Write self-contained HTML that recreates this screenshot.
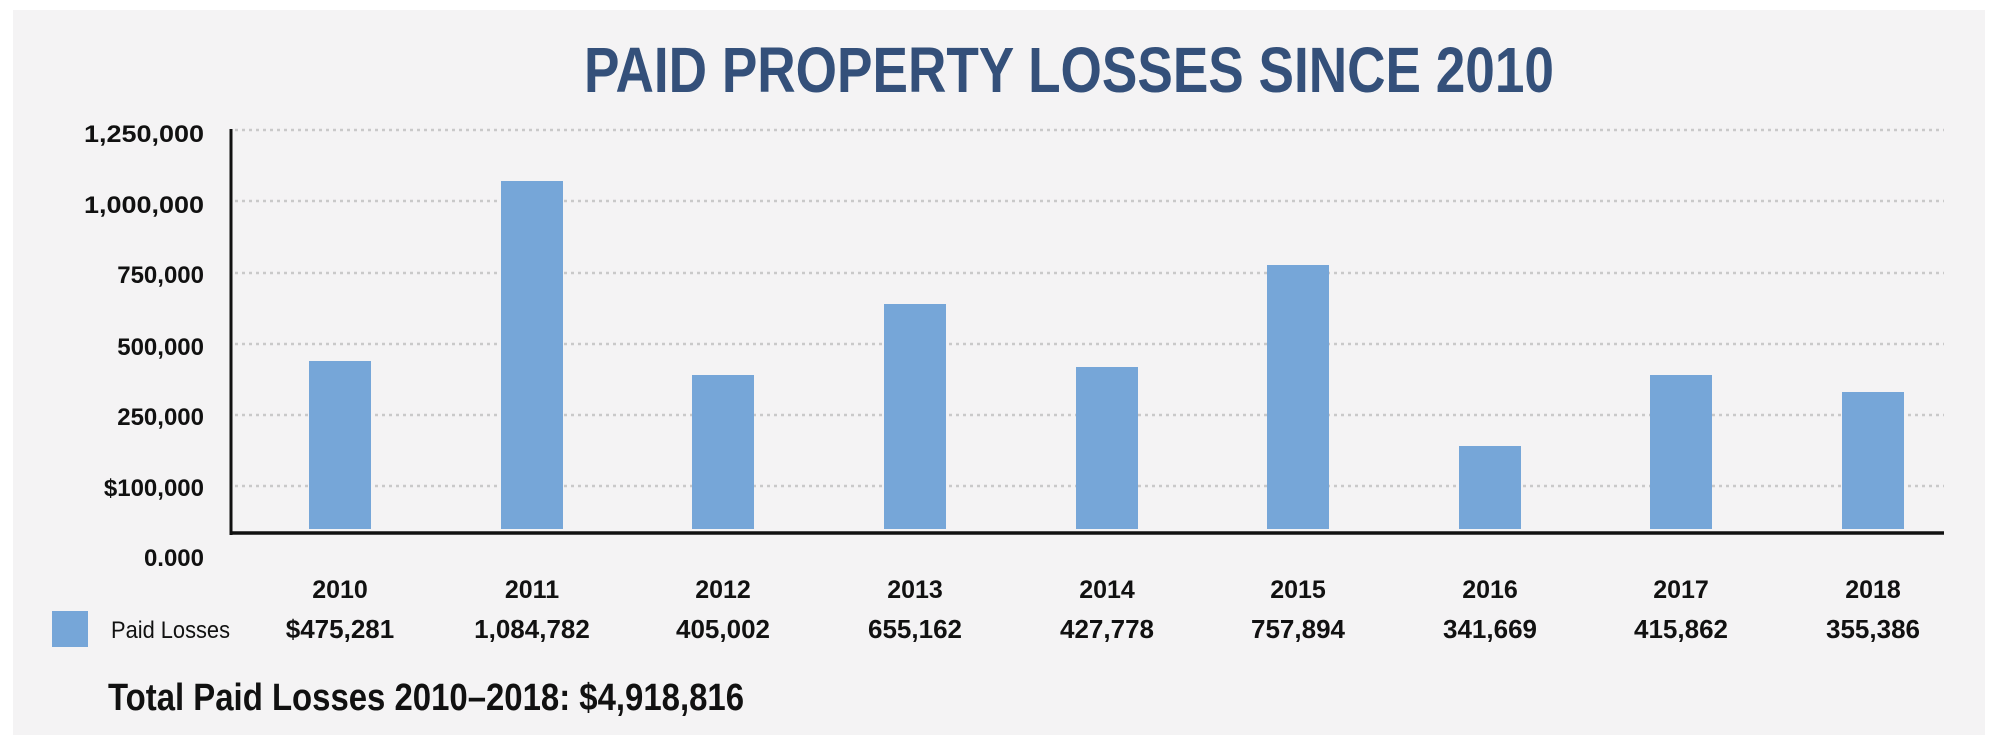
<!DOCTYPE html>
<html><head><meta charset="utf-8"><style>
html,body{margin:0;padding:0;background:#fff;}
svg{display:block;}
text{font-family:"Liberation Sans",sans-serif;}
</style></head><body>
<svg width="2000" height="745" viewBox="0 0 2000 745" xmlns="http://www.w3.org/2000/svg">
<rect x="13" y="10" width="1972" height="725" fill="#f4f3f4"/>
<text x="584" y="92" font-size="64" font-weight="bold" fill="#34507a" textLength="970" lengthAdjust="spacingAndGlyphs">PAID PROPERTY LOSSES SINCE 2010</text>
<g stroke="#c9c9c9" stroke-width="2.5" stroke-dasharray="3 4">
<line x1="235" y1="130" x2="1944" y2="130"/>
<line x1="235" y1="201" x2="1944" y2="201"/>
<line x1="235" y1="273" x2="1944" y2="273"/>
<line x1="235" y1="344" x2="1944" y2="344"/>
<line x1="235" y1="415" x2="1944" y2="415"/>
<line x1="235" y1="486" x2="1944" y2="486"/>
</g>
<g fill="#76a6d8">
<rect x="309" y="361" width="62" height="168"/>
<rect x="501" y="181" width="62" height="348"/>
<rect x="692" y="375" width="62" height="154"/>
<rect x="884" y="304" width="62" height="225"/>
<rect x="1076" y="367" width="62" height="162"/>
<rect x="1267" y="265" width="62" height="264"/>
<rect x="1459" y="446" width="62" height="83"/>
<rect x="1650" y="375" width="62" height="154"/>
<rect x="1842" y="392" width="62" height="137"/>
</g>
<line x1="231" y1="129" x2="231" y2="535" stroke="#111" stroke-width="3"/>
<line x1="230" y1="533" x2="1944" y2="533" stroke="#111" stroke-width="3.5"/>
<g font-size="24" fill="#111" text-anchor="end" font-weight="bold">
<text x="204" y="142" textLength="120" lengthAdjust="spacingAndGlyphs">1,250,000</text>
<text x="204" y="213" textLength="120" lengthAdjust="spacingAndGlyphs">1,000,000</text>
<text x="204" y="283">750,000</text>
<text x="204" y="355">500,000</text>
<text x="204" y="425">250,000</text>
<text x="204" y="496">$100,000</text>
<text x="204" y="566">0.000</text>
</g>
<g font-size="25" fill="#111" text-anchor="middle" font-weight="bold">
<text x="340" y="598">2010</text><text x="532" y="598">2011</text><text x="723" y="598">2012</text>
<text x="915" y="598">2013</text><text x="1107" y="598">2014</text><text x="1298" y="598">2015</text>
<text x="1490" y="598">2016</text><text x="1681" y="598">2017</text><text x="1873" y="598">2018</text>
</g>
<g font-size="26" fill="#111" text-anchor="middle" font-weight="bold">
<text x="340" y="638">$475,281</text><text x="532" y="638">1,084,782</text><text x="723" y="638">405,002</text>
<text x="915" y="638">655,162</text><text x="1107" y="638">427,778</text><text x="1298" y="638">757,894</text>
<text x="1490" y="638">341,669</text><text x="1681" y="638">415,862</text><text x="1873" y="638">355,386</text>
</g>
<rect x="52" y="611" width="36" height="36" fill="#76a6d8"/>
<text x="111" y="638" font-size="24" fill="#111" textLength="119" lengthAdjust="spacingAndGlyphs">Paid Losses</text>
<text x="108" y="710" font-size="38" font-weight="bold" fill="#111" textLength="636" lengthAdjust="spacingAndGlyphs">Total Paid Losses 2010–2018: $4,918,816</text>
</svg>
</body></html>
